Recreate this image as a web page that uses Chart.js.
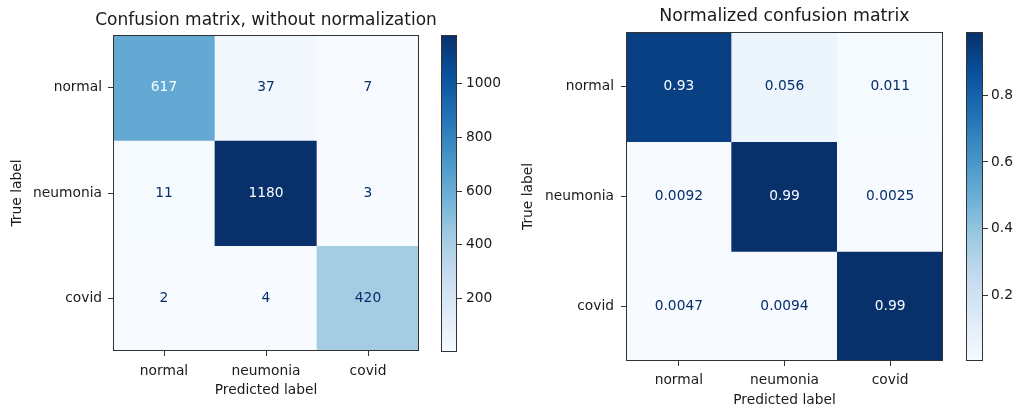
<!DOCTYPE html>
<html><head><meta charset="utf-8">
<script src="https://cdn.jsdelivr.net/npm/chart.js@4.4.0/dist/chart.umd.min.js"></script>
<style>
html,body{margin:0;padding:0;background:#fff;}
#wrap{position:relative;width:1016px;height:407px;overflow:hidden;background:#fff;}
canvas{position:absolute;top:0;}
</style></head><body>
<div id="wrap">
<canvas id="cm1" width="532" height="407" style="left:0px;width:532px;height:407px"></canvas>
<canvas id="cb1" width="80" height="407" style="left:430px;width:80px;height:407px"></canvas>
<canvas id="cm2" width="445" height="407" style="left:510px;width:445px;height:407px"></canvas>
<canvas id="cb2" width="61" height="407" style="left:955px;width:61px;height:407px"></canvas>
</div>
<script>
// ---- data ----
const classLabels = ['normal', 'neumonia', 'covid'];
const countsNormal   = [617, 37, 7];
const countsNeumonia = [11, 1180, 3];
const countsCovid    = [2, 4, 420];
const normNormal   = [0.93, 0.056, 0.011];
const normNeumonia = [0.0092, 0.99, 0.0025];
const normCovid    = [0.0047, 0.0094, 0.99];
const countTicks = [200, 400, 600, 800, 1000];
const normTicks  = [0.2, 0.4, 0.6, 0.8];
const title1 = 'Confusion matrix, without normalization';
const title2 = 'Normalized confusion matrix';

// ---- styling ----
const FONT = 'DejaVu Sans';
const FS = 13.8;
const TEXT = '#1a1a1a';
const EDGE = '#333333';
const BLUES = ['#f7fbff','#deebf7','#c6dbef','#9ecae1','#6baed6','#4292c6','#2171b5','#08519c','#08306b'];
function hex2rgb(h){return [parseInt(h.slice(1,3),16),parseInt(h.slice(3,5),16),parseInt(h.slice(5,7),16)];}
function blues(t){
  t = Math.max(0, Math.min(1, t));
  const p = t * (BLUES.length - 1);
  const i = Math.min(Math.floor(p), BLUES.length - 2);
  const f = p - i;
  const a = hex2rgb(BLUES[i]), b = hex2rgb(BLUES[i+1]);
  return 'rgb(' + a.map((v,k)=>Math.round(v + (b[k]-v)*f)).join(',') + ')';
}

const framePlugin = {
  id: 'frame',
  afterDraw(chart) {
    const a = chart.chartArea, c = chart.ctx;
    c.save();
    c.strokeStyle = EDGE; c.lineWidth = 1;
    const l = Math.round(a.left), t = Math.round(a.top), r = Math.round(a.right), b = Math.round(a.bottom);
    c.strokeRect(l + 0.5, t + 0.5, r - l - 1, b - t - 1);
    c.restore();
  }
};

function heatmap(id, rows, L) {
  const flat = rows.flat();
  const vmin = Math.min(...flat), vmax = Math.max(...flat);
  const thresh = (vmin + vmax) / 2;
  const rowIdx = classLabels.map((_, i) => i);
  const cellText = {
    id: 'cellText',
    afterDatasetsDraw(chart) {
      const c = chart.ctx;
      c.save();
      c.font = FS + 'px "' + FONT + '"';
      c.textAlign = 'center'; c.textBaseline = 'middle';
      rows.forEach((row, di) => {
        const meta = chart.getDatasetMeta(di);
        meta.data.forEach((el, j) => {
          const v = row[j];
          c.fillStyle = v < thresh ? BLUES[8] : BLUES[0];
          c.fillText(String(v), el.x, (el.y + el.base) / 2);
        });
      });
      c.restore();
    }
  };
  const scales = {
    x: {
      type: 'category', stacked: true,
      grid: { drawOnChartArea: false, drawTicks: true, tickLength: 5, color: EDGE, offset: false },
      border: { display: false },
      ticks: { color: TEXT, font: { family: FONT, size: FS }, padding: L.xPad, maxRotation: 0 },
      title: { display: true, text: 'Predicted label', color: TEXT, font: { family: FONT, size: FS }, padding: { top: 0, bottom: L.xTitleBottom } },
      afterFit: s => { s.height = L.xHeight; }
    },
    y: {
      type: 'linear', stacked: false, reverse: true, min: -0.5, max: 2.5,
      afterBuildTicks: s => { s.ticks = rowIdx.map(v => ({ value: v })); },
      grid: { drawOnChartArea: false, drawTicks: true, tickLength: 5, color: EDGE },
      border: { display: false },
      ticks: { color: TEXT, font: { family: FONT, size: FS }, padding: L.yPad, callback: v => classLabels[v] },
      title: { display: true, text: 'True label', color: TEXT, font: { family: FONT, size: FS }, padding: { top: L.yTitleTop, bottom: 0 } },
      afterFit: s => { s.width = L.yWidth; }
    }
  };
  if (L.rightGutter) {
    // empty right-hand gutter so that the full-width title is centred over the matrix
    scales.gutter = {
      type: 'linear', position: 'right', display: true,
      grid: { display: false }, border: { display: false }, ticks: { display: false },
      afterFit: s => { s.width = L.rightGutter; }
    };
  }
  return new Chart(document.getElementById(id), {
    type: 'bar',
    data: {
      labels: classLabels,
      datasets: rows.map((row, i) => ({
        data: row.map(() => [i - 0.5, i + 0.5]),
        backgroundColor: row.map(v => blues((v - vmin) / (vmax - vmin))),
        borderWidth: 0,
        categoryPercentage: 1,
        barPercentage: 1,
        stack: 'cells',
        yAxisID: 'y'
      }))
    },
    options: {
      responsive: false,
      animation: false,
      events: [],
      layout: { padding: { left: 0, right: L.padRight, top: 0, bottom: 0 } },
      plugins: {
        legend: { display: false },
        tooltip: { enabled: false },
        title: {
          display: true, text: L.title, fullSize: L.titleFull, color: TEXT,
          font: { family: FONT, size: L.titleSize, weight: 'normal', lineHeight: 1.2 },
          padding: { top: L.titleTop, bottom: L.titleBottom }
        }
      },
      scales
    },
    plugins: [cellText, framePlugin]
  });
}

function colorbar(id, rows, ticks, L) {
  const flat = rows.flat();
  const vmin = Math.min(...flat), vmax = Math.max(...flat);
  return new Chart(document.getElementById(id), {
    type: 'bar',
    data: {
      labels: [''],
      datasets: [{
        data: [[vmin, vmax]],
        backgroundColor: ctx => {
          const a = ctx.chart.chartArea;
          if (!a) return BLUES[4];
          const g = ctx.chart.ctx.createLinearGradient(0, a.bottom, 0, a.top);
          BLUES.forEach((c, i) => g.addColorStop(i / (BLUES.length - 1), c));
          return g;
        },
        borderWidth: 0, categoryPercentage: 1, barPercentage: 1
      }]
    },
    options: {
      responsive: false,
      animation: false,
      events: [],
      layout: { padding: { left: L.padLeft, right: 0, top: L.top, bottom: L.bottom } },
      plugins: { legend: { display: false }, tooltip: { enabled: false } },
      scales: {
        x: { display: false },
        y: {
          position: 'right', min: vmin, max: vmax,
          afterBuildTicks: s => { s.ticks = ticks.map(v => ({ value: v })); },
          grid: { drawOnChartArea: false, drawTicks: true, tickLength: 5, color: EDGE },
          border: { display: false },
          ticks: { color: TEXT, font: { family: FONT, size: FS }, padding: L.tickPad, callback: v => String(v) },
          afterFit: s => { s.width = L.width; }
        }
      }
    },
    plugins: [framePlugin]
  });
}

const rowsCounts = [countsNormal, countsNeumonia, countsCovid];
const rowsNorm = [normNormal, normNeumonia, normCovid];

heatmap('cm1', rowsCounts, { title: title1, titleFull: true, titleSize: 17, rightGutter: 113, padRight: 0, titleTop: 10.8, titleBottom: 3.8, xHeight: 56, xPad: 7, xTitleBottom: 8, yWidth: 113, yPad: 6, yTitleTop: 9 });
colorbar('cb1', rowsCounts, countTicks, { padLeft: 11, top: 35, bottom: 55, width: 53, tickPad: 4 });
heatmap('cm2', rowsNorm, { title: title2, titleFull: false, titleSize: 17.4, padRight: 12, titleTop: 6, titleBottom: 5.1, xHeight: 46, xPad: 6, xTitleBottom: -2, yWidth: 116, yPad: 7, yTitleTop: 10 });
colorbar('cb2', rowsNorm, normTicks, { padLeft: 11, top: 32, bottom: 46, width: 33, tickPad: 3 });
</script>
</body></html>
